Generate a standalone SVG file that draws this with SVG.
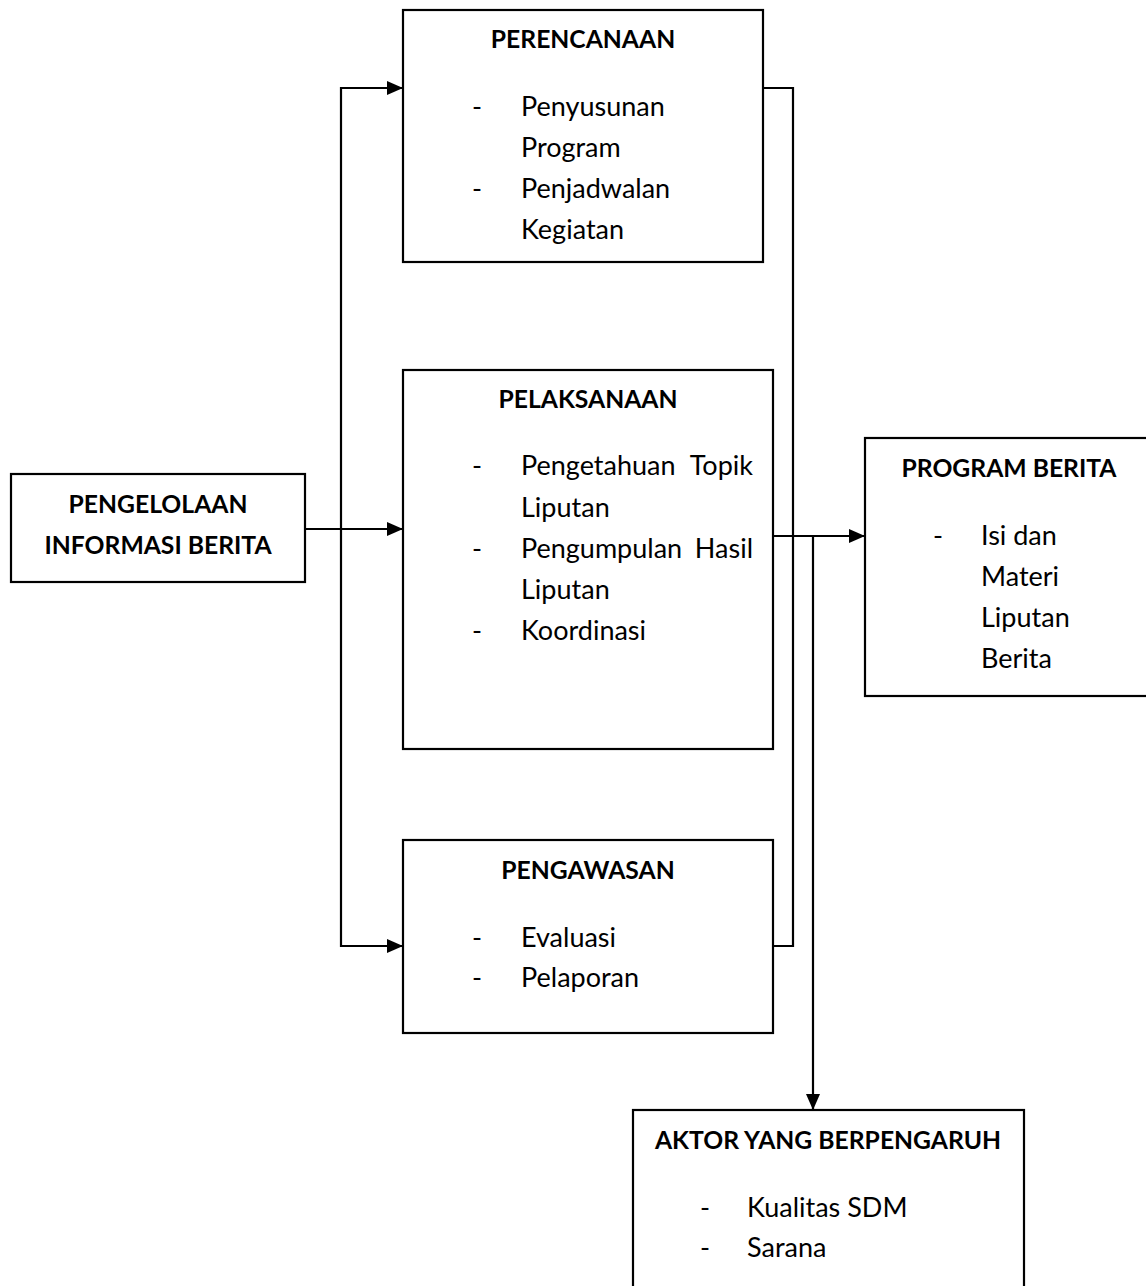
<svg xmlns="http://www.w3.org/2000/svg" width="1146" height="1286" viewBox="0 0 1146 1286">
  <defs>
    <marker id="arr" markerUnits="userSpaceOnUse" markerWidth="17" markerHeight="15" refX="16" refY="7.5" orient="auto">
      <path d="M0,0.5 L16,7.5 L0,14.5 Z" fill="#000"/>
    </marker>
  </defs>
  <style>
    .box { fill: #fff; stroke: #000; stroke-width: 2.2; }
    .conn { fill: none; stroke: #000; stroke-width: 2.2; }
    .t { font-family: Lato, "Liberation Sans", sans-serif; font-size: 27px; fill: #000; }
    .b { font-weight: bold; font-size: 24.7px; text-anchor: middle; }
  </style>
  <rect width="1146" height="1286" fill="#fff"/>

  <g id="connectors">
    <path class="conn" d="M305,529 H403" marker-end="url(#arr)"/>
    <path class="conn" d="M341,529 V88 H403" marker-end="url(#arr)"/>
    <path class="conn" d="M341,529 V946 H403" marker-end="url(#arr)"/>
    <path class="conn" d="M763,88 H793 V946 H773"/>
    <path class="conn" d="M773,536 H865" marker-end="url(#arr)"/>
    <path class="conn" d="M813,536 V1110" marker-end="url(#arr)"/>
  </g>

  <g id="pengelolaan">
    <rect class="box" x="11" y="474" width="294" height="108"/>
    <text class="t b" x="158" y="513">PENGELOLAAN</text>
    <text class="t b" x="158" y="554">INFORMASI BERITA</text>
  </g>

  <g id="perencanaan">
    <rect class="box" x="403" y="10" width="360" height="252"/>
    <text class="t b" x="583" y="48">PERENCANAAN</text>
    <text class="t" x="472" y="116">-</text>
    <text class="t" x="521" y="116">Penyusunan</text>
    <text class="t" x="521" y="157">Program</text>
    <text class="t" x="472" y="198">-</text>
    <text class="t" x="521" y="198">Penjadwalan</text>
    <text class="t" x="521" y="239">Kegiatan</text>
  </g>

  <g id="pelaksanaan">
    <rect class="box" x="403" y="370" width="370" height="379"/>
    <text class="t b" x="588" y="408">PELAKSANAAN</text>
    <text class="t" x="472" y="475">-</text>
    <text class="t" x="521" y="475">Pengetahuan <tspan x="753" text-anchor="end">Topik</tspan></text>
    <text class="t" x="521" y="517">Liputan</text>
    <text class="t" x="472" y="558">-</text>
    <text class="t" x="521" y="558">Pengumpulan <tspan x="753" text-anchor="end">Hasil</tspan></text>
    <text class="t" x="521" y="599">Liputan</text>
    <text class="t" x="472" y="640">-</text>
    <text class="t" x="521" y="640">Koordinasi</text>
  </g>

  <g id="pengawasan">
    <rect class="box" x="403" y="840" width="370" height="193"/>
    <text class="t b" x="588" y="879">PENGAWASAN</text>
    <text class="t" x="472" y="947">-</text>
    <text class="t" x="521" y="947">Evaluasi</text>
    <text class="t" x="472" y="987">-</text>
    <text class="t" x="521" y="987">Pelaporan</text>
  </g>

  <g id="program-berita">
    <rect class="box" x="865" y="438" width="300" height="258"/>
    <text class="t b" x="1009" y="477">PROGRAM BERITA</text>
    <text class="t" x="933" y="545">-</text>
    <text class="t" x="981" y="545">Isi dan</text>
    <text class="t" x="981" y="586">Materi</text>
    <text class="t" x="981" y="627">Liputan</text>
    <text class="t" x="981" y="668">Berita</text>
  </g>

  <g id="aktor">
    <rect class="box" x="633" y="1110" width="391" height="190"/>
    <text class="t b" x="828" y="1149">AKTOR YANG BERPENGARUH</text>
    <text class="t" x="700" y="1217">-</text>
    <text class="t" x="747" y="1217">Kualitas SDM</text>
    <text class="t" x="700" y="1257">-</text>
    <text class="t" x="747" y="1257">Sarana</text>
  </g>
</svg>
